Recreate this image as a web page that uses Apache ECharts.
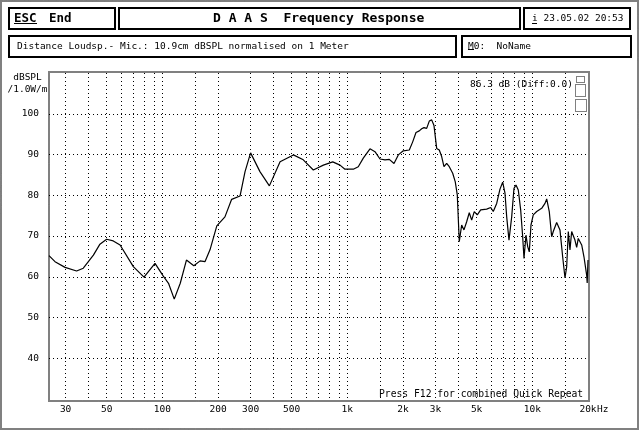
<!DOCTYPE html>
<html><head><meta charset="utf-8">
<script src="https://cdn.jsdelivr.net/npm/echarts@6/dist/echarts.min.js"></script>
<style>html,body{margin:0;padding:0;background:#fff}#c{width:640px;height:431px}</style>
</head><body><div id="c"></div>
<script>
// ---- data ----
const freqHz = [24.4, 26.3, 29.8, 34.4, 37.4, 42.4, 46.0, 50.0, 54.3, 59.1,
  69.7, 79.6, 91.3, 101, 108, 116, 125, 135, 148, 160,
  170, 181, 197, 218, 237, 263, 280, 300, 337, 379,
  433, 511, 578, 655, 742, 834, 913, 971, 1077, 1146,
  1220, 1326, 1411, 1502, 1598, 1686, 1788, 1886, 2007, 2163,
  2256, 2351, 2449, 2523, 2596, 2685, 2774, 2858, 2941, 3041,
  3141, 3236, 3330, 3444, 3558, 3712, 3833, 3930, 4029, 4151,
  4271, 4417, 4563, 4701, 4856, 5041, 5259, 5666, 5957, 6152,
  6418, 6687, 6915, 7117, 7270, 7480, 7736, 7960, 8161, 8399,
  8652, 8870, 9016, 9243, 9441, 9630, 9836, 10120, 10560, 11235,
  11710, 11960, 12350, 12725, 12980, 13540, 14110, 14590, 15020, 15340,
  15650, 15980, 16320, 16650, 17000, 17370, 17720, 18490, 19020, 19670,
  19800, 20000];
const splDb = [65.2, 63.7, 62.3, 61.4, 62.1, 65.3, 68.0, 69.2, 68.8, 67.8,
  62.5, 59.9, 63.3, 60.2, 58.4, 54.5, 58.4, 64.1, 62.7, 63.9,
  63.7, 66.6, 72.5, 74.7, 79.0, 79.8, 85.8, 90.4, 85.8, 82.3,
  88.2, 89.9, 88.7, 86.2, 87.4, 88.2, 87.4, 86.4, 86.4, 87.0,
  89.1, 91.4, 90.7, 88.9, 88.7, 88.8, 87.8, 89.9, 90.9, 91.1,
  93.1, 95.4, 95.8, 96.3, 96.6, 96.4, 98.2, 98.5, 97.1, 91.5,
  91.1, 89.5, 87.0, 87.8, 87.0, 85.4, 83.3, 80.1, 68.6, 72.7,
  71.5, 73.5, 75.7, 73.9, 76.0, 75.2, 76.4, 76.6, 77.0, 76.0,
  78.0, 81.5, 83.2, 80.5, 74.7, 69.0, 74.7, 81.7, 82.5, 81.3,
  76.4, 69.8, 64.5, 70.2, 67.4, 66.1, 72.7, 75.2, 76.0, 76.8,
  78.0, 79.1, 76.0, 69.8, 71.1, 73.3, 71.5, 64.9, 59.7, 62.5,
  71.1, 66.6, 71.1, 71.2, 69.0, 67.2, 69.4, 67.8, 64.9, 60.4,
  58.5, 64.1];
const xGridTicks = [30,40,50,60,70,80,90,100,150,200,300,400,500,600,700,800,900,1000,1500,2000,3000,4000,5000,6000,7000,8000,9000,10000,15000];
const xLabelTicks = [30,50,100,200,300,500,1000,2000,3000,5000,10000,20000];
const yTicks = [40,50,60,70,80,90,100];
const yNameLines = ['dBSPL', '/1.0W/m'];
const titleText = 'D A A S  Frequency Response';
const escText = 'ESC', endText = 'End';
const dateText = 'i 23.05.02 20:53';
const infoText = 'Distance Loudsp.- Mic.: 10.9cm dBSPL normalised on 1 Meter';
const memText = 'M0:  NoName';
const levelText = '86.3 dB (Diff:0.0)';
const footText = 'Press F12 for combined Quick Repeat';

// ---- chart ----
const MONO = "'DejaVu Sans Mono', monospace";
const f = (s, b) => (b ? 'bold ' : '') + s + 'px ' + MONO;
function txt(x, y, text, font, align) {
  return {type:'text', x:x, y:y, z:20, silent:true,
    style:{text:text, font:font, fill:'#000', align:align||'left', verticalAlign:'middle',
      textAlign:align||'left', textVerticalAlign:'middle'}};
}
function box(x0, y0, x1, y1) {
  return {type:'rect', z:20, silent:true, shape:{x:x0+1, y:y0+1, width:x1-x0-2, height:y1-y0-2},
    style:{fill:'none', stroke:'#000', lineWidth:2}};
}
function checker(x, y, w, h) {
  return [
    {type:'rect', z:20, silent:true, shape:{x:x+0.5, y:y+0.5, width:w-1, height:h-1}, style:{fill:'none', stroke:'#000', lineWidth:1, lineDash:[1,1]}},
    {type:'rect', z:20, silent:true, shape:{x:x+1.5, y:y+1.5, width:w-3, height:h-3}, style:{fill:'none', stroke:'#000', lineWidth:1, lineDash:[1,1], lineDashOffset:1}}
  ];
}
function dotRect(x, y, w, h) {
  return {type:'rect', z:20, silent:true, shape:{x:x+0.5, y:y+0.5, width:w, height:h}, style:{fill:'none', stroke:'#000', lineWidth:1, lineDash:[1,1]}};
}
function hline(x1, x2, y) {
  return {type:'line', z:20, silent:true, shape:{x1:x1, y1:y, x2:x2, y2:y}, style:{stroke:'#000', lineWidth:1}};
}

const chart = echarts.init(document.getElementById('c'), null, {renderer:'canvas'});
const graphics = [].concat(
  checker(0, 0, 639, 430),
  checker(48, 71, 542, 331),
  [
    box(8, 7, 116, 30), box(118, 7, 521, 30), box(523, 7, 631, 30),
    box(8, 35, 457, 58), box(461, 35, 632, 58),
    txt(14, 19, escText, f(12.5, true)), hline(14, 37, 23.5),
    txt(49, 19, endText, f(12.5, true)),
    txt(213, 19, titleText, f(13, true)),
    txt(532, 18.5, dateText, f(9.5)), hline(532, 537, 23.5),
    txt(17, 46.5, infoText, f(9.5)),
    txt(468, 46.5, memText, f(9.5)), hline(468, 474, 49.5),
    txt(27.5, 78, yNameLines[0], f(9.5), 'center'),
    txt(27.5, 89.5, yNameLines[1], f(9.5), 'center'),
    txt(470, 85, levelText, f(9.5)),
    txt(379, 394, footText, f(9.7)),
    dotRect(576, 76, 8, 6), dotRect(575, 84, 10, 12), dotRect(575, 99, 11, 12)
  ]
);

chart.setOption({
  animation:false,
  backgroundColor:'#fff',
  grid:{left:49, right:52, top:73, bottom:32},
  xAxis:{
    type:'log', logBase:10, min:24.4, max:20000,
    axisLine:{show:false},
    axisTick:{show:false, customValues:xGridTicks},
    splitLine:{show:true, lineStyle:{color:'#000', width:1, type:[1,3]}},
    axisLabel:{customValues:xLabelTicks, showMaxLabel:true, showMinLabel:true,
      formatter:v => v >= 1000 ? (v/1000) + 'k' : String(v),
      fontFamily:MONO, fontSize:9.5, color:'#000', margin:6},
    name:'Hz', nameLocation:'end', nameGap:9, nameMoveOverlap:false,
    nameTextStyle:{fontFamily:MONO, fontSize:9.5, color:'#000', verticalAlign:'top', align:'left', padding:[6,0,0,0]}
  },
  yAxis:{
    type:'value', min:30, max:110,
    axisLine:{show:false},
    axisTick:{show:false, customValues:yTicks},
    splitLine:{show:true, lineStyle:{color:'#000', width:1, type:[1,3]}},
    axisLabel:{customValues:yTicks, fontFamily:MONO, fontSize:9.5, color:'#000', margin:10}
  },
  series:[{
    type:'line', data:freqHz.map((x, i) => [x, splDb[i]]),
    showSymbol:false, symbol:'none', silent:true,
    lineStyle:{color:'#000', width:1.2}
  }],
  graphic:graphics
});
</script></body></html>
